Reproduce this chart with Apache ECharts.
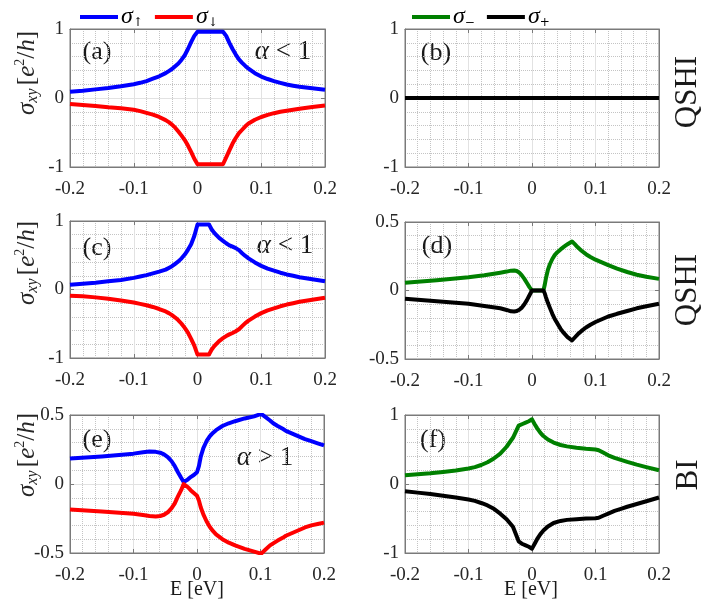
<!DOCTYPE html>
<html>
<head>
<meta charset="utf-8">
<script src="https://cdn.jsdelivr.net/npm/echarts@6/dist/echarts.min.js"></script>
<style>
  html, body { margin: 0; padding: 0; background: #fff; }
  #main { width: 708px; height: 612px; }
</style>
</head>
<body>
<div id="main"></div>
<script>
// panel (a)
const E_A = [-0.2, -0.18, -0.16, -0.14, -0.12, -0.1, -0.09, -0.08, -0.07, -0.06, -0.05, -0.045, -0.04, -0.035, -0.03,
  -0.025, -0.02, -0.015, -0.01, -0.005, 0,
  0.04, 0.045, 0.05, 0.055, 0.06, 0.065, 0.07, 0.075, 0.08, 0.09, 0.1, 0.11, 0.12, 0.13, 0.14, 0.15, 0.16, 0.18, 0.2];
const UP_A = [0.09, 0.105, 0.125, 0.145, 0.17, 0.20, 0.22, 0.245, 0.28, 0.315, 0.36, 0.39, 0.42, 0.46, 0.50,
  0.555, 0.62, 0.71, 0.81, 0.90, 0.96,
  0.96, 0.90, 0.80, 0.71, 0.63, 0.56, 0.51, 0.465, 0.425, 0.36, 0.31, 0.275, 0.245, 0.22, 0.195, 0.178, 0.163, 0.14, 0.12];
const DOWN_A = [-0.087, -0.1, -0.115, -0.135, -0.15, -0.17, -0.19, -0.215, -0.24, -0.275, -0.32, -0.35, -0.385, -0.43, -0.485,
  -0.545, -0.61, -0.69, -0.78, -0.88, -0.96,
  -0.96, -0.86, -0.76, -0.66, -0.58, -0.51, -0.46, -0.41, -0.37, -0.315, -0.275, -0.245, -0.22, -0.2, -0.185, -0.17, -0.155, -0.13, -0.11];

// panel (b)
const E_B = [-0.2, -0.1, 0, 0.1, 0.2];
const MINUS_B = [0, 0, 0, 0, 0];
const PLUS_B = [0, 0, 0, 0, 0];

// panel (c)
const E_C = [-0.2, -0.18, -0.16, -0.14, -0.12, -0.1, -0.09, -0.08, -0.07, -0.06, -0.05, -0.045, -0.04, -0.035, -0.03,
  -0.025, -0.02, -0.015, -0.01, -0.005, 0,
  0.018, 0.022, 0.026, 0.03, 0.035, 0.04, 0.045, 0.05, 0.055, 0.06, 0.065, 0.07, 0.075, 0.08, 0.09, 0.1, 0.11, 0.12,
  0.13, 0.14, 0.15, 0.16, 0.18, 0.2];
const UP_C = [0.07, 0.085, 0.10, 0.12, 0.14, 0.17, 0.19, 0.21, 0.235, 0.26, 0.29, 0.315, 0.34, 0.375, 0.41,
  0.455, 0.51, 0.58, 0.66, 0.78, 0.95,
  0.95, 0.88, 0.83, 0.79, 0.745, 0.71, 0.675, 0.645, 0.625, 0.605, 0.575, 0.53, 0.49, 0.455, 0.395, 0.345, 0.305, 0.275,
  0.245, 0.22, 0.2, 0.18, 0.15, 0.12];
const DOWN_C = [-0.09, -0.1, -0.115, -0.135, -0.16, -0.19, -0.21, -0.23, -0.255, -0.285, -0.32, -0.345, -0.375, -0.41, -0.45,
  -0.5, -0.56, -0.63, -0.72, -0.82, -0.95,
  -0.95, -0.88, -0.83, -0.79, -0.745, -0.71, -0.68, -0.655, -0.635, -0.61, -0.58, -0.535, -0.49, -0.455, -0.395, -0.345, -0.305, -0.275,
  -0.245, -0.22, -0.2, -0.18, -0.15, -0.12];

// panel (d)
const E_D = [-0.2, -0.15, -0.1, -0.075, -0.05, -0.04, -0.033, -0.028, -0.024, -0.02, -0.016, -0.012, -0.008, -0.004, 0,
  0.018, 0.02, 0.022, 0.025, 0.028, 0.032, 0.036, 0.04, 0.045, 0.05, 0.056, 0.063, 0.067, 0.072, 0.078, 0.085, 0.092,
  0.1, 0.11, 0.12, 0.134, 0.15, 0.165, 0.18, 0.2];
const MINUS_D = [0.056, 0.075, 0.097, 0.112, 0.13, 0.138, 0.145, 0.146, 0.142, 0.13, 0.11, 0.085, 0.055, 0.025, 0,
  0, 0.04, 0.09, 0.15, 0.19, 0.23, 0.26, 0.28, 0.30, 0.318, 0.338, 0.358, 0.34, 0.315, 0.29, 0.265, 0.245,
  0.225, 0.205, 0.185, 0.16, 0.135, 0.115, 0.10, 0.085];
const PLUS_D = [-0.06, -0.078, -0.097, -0.113, -0.13, -0.142, -0.152, -0.153, -0.15, -0.14, -0.125, -0.1, -0.07, -0.035, 0,
  0, -0.02, -0.05, -0.09, -0.125, -0.17, -0.21, -0.24, -0.28, -0.31, -0.34, -0.365, -0.345, -0.32, -0.295, -0.27, -0.25,
  -0.23, -0.21, -0.19, -0.17, -0.15, -0.13, -0.115, -0.097];

// panel (e)
const E_E = [-0.2, -0.15, -0.1, -0.085, -0.075, -0.065, -0.058, -0.052, -0.046, -0.04, -0.035, -0.03, -0.025, -0.021,
  -0.015, -0.01, -0.005, 0, 0.003, 0.006, 0.01, 0.015, 0.02, 0.025, 0.03, 0.04, 0.05, 0.06, 0.075, 0.09, 0.101,
  0.108, 0.115, 0.12, 0.127, 0.135, 0.14, 0.15, 0.16, 0.17, 0.18, 0.19, 0.2];
const UP_E = [0.184, 0.20, 0.22, 0.23, 0.235, 0.233, 0.227, 0.215, 0.195, 0.165, 0.13, 0.085, 0.045, 0.015,
  0.03, 0.05, 0.065, 0.085, 0.13, 0.2, 0.26, 0.31, 0.345, 0.37, 0.39, 0.42, 0.44, 0.455, 0.475, 0.49, 0.508,
  0.485, 0.46, 0.44, 0.42, 0.40, 0.385, 0.365, 0.345, 0.325, 0.31, 0.295, 0.28];
const DOWN_E = [-0.184, -0.2, -0.215, -0.225, -0.232, -0.235, -0.232, -0.223, -0.205, -0.175, -0.14, -0.09, -0.045, 0.0,
  -0.02, -0.045, -0.065, -0.085, -0.12, -0.17, -0.22, -0.27, -0.31, -0.34, -0.365, -0.4, -0.425, -0.445, -0.47, -0.49, -0.505,
  -0.475, -0.445, -0.43, -0.41, -0.39, -0.375, -0.355, -0.335, -0.315, -0.3, -0.29, -0.28];

// panel (f)
const E_F = [-0.2, -0.18, -0.16, -0.14, -0.12, -0.1, -0.09, -0.08, -0.07, -0.06, -0.05, -0.04, -0.03, -0.021, -0.015,
  -0.01, -0.005, 0, 0.004, 0.008, 0.013, 0.018, 0.025, 0.034, 0.045, 0.055, 0.07, 0.085, 0.1, 0.105, 0.112, 0.12,
  0.13, 0.14, 0.15, 0.165, 0.18, 0.2];
const MINUS_F = [0.128, 0.14, 0.155, 0.175, 0.195, 0.225, 0.245, 0.275, 0.315, 0.37, 0.44, 0.54, 0.67, 0.845, 0.87,
  0.89, 0.91, 0.937, 0.87, 0.81, 0.745, 0.695, 0.645, 0.60, 0.565, 0.545, 0.525, 0.51, 0.5, 0.49, 0.455, 0.415,
  0.38, 0.35, 0.32, 0.28, 0.245, 0.2];
const PLUS_F = [-0.104, -0.125, -0.145, -0.17, -0.195, -0.225, -0.245, -0.275, -0.31, -0.36, -0.43, -0.51, -0.62, -0.83, -0.87,
  -0.89, -0.91, -0.937, -0.87, -0.8, -0.73, -0.675, -0.615, -0.565, -0.535, -0.52, -0.51, -0.5, -0.495, -0.49, -0.46, -0.43,
  -0.39, -0.36, -0.33, -0.29, -0.25, -0.196];

const X_TICKS = [-0.2, -0.1, 0, 0.1, 0.2];
const SERIF = '"Liberation Serif", "Times New Roman", serif';
const FRAME = '#7a7a7a';
const COLORS = { up: '#0000ff', down: '#ff0000', minus: '#008000', plus: '#000000' };
const LEGEND_TEXT = { up: '{s|σ}{sub|↑}', down: '{s|σ}{sub|↓}', minus: '{s|σ}{sub|−}', plus: '{s|σ}{sub|+}' };

const chart = echarts.init(document.getElementById('main'));

// grid rectangles, (a)..(f)
const grids = [
  { left: 70, top: 29, width: 255, height: 138 },
  { left: 405, top: 29, width: 254, height: 138 },
  { left: 70, top: 221, width: 255, height: 137 },
  { left: 405, top: 222, width: 254, height: 137 },
  { left: 70, top: 415, width: 254, height: 138 },
  { left: 405, top: 415, width: 254, height: 138 }
];
const yRanges = [1, 1, 1, 0.5, 0.5, 1];

function fmt(v) {
  return String(Math.round(v * 10) / 10);
}

function xAxis(i, mirror) {
  return {
    gridIndex: i, type: 'value', min: X_TICKS[0], max: X_TICKS[X_TICKS.length - 1], interval: 0.1,
    position: mirror ? 'top' : 'bottom',
    axisLine: { show: true, onZero: false, lineStyle: { color: FRAME } },
    axisTick: { inside: true, length: 4, lineStyle: { color: FRAME } },
    axisLabel: { show: !mirror, fontFamily: SERIF, fontSize: 19, color: '#262626', margin: 13, formatter: fmt },
    splitLine: { show: !mirror, lineStyle: { color: '#e2e2e2', width: 1 } },
    minorTick: { show: false, splitNumber: 5 },
    minorSplitLine: { show: !mirror, lineStyle: { color: '#c4c4c4', type: 'dotted', width: 1 } }
  };
}

function yAxis(i, mirror) {
  const r = yRanges[i];
  return {
    gridIndex: i, type: 'value', min: -r, max: r, interval: r,
    position: mirror ? 'right' : 'left',
    axisLine: { show: true, onZero: false, lineStyle: { color: FRAME } },
    axisTick: { inside: true, length: 4, lineStyle: { color: FRAME } },
    axisLabel: { show: !mirror, fontFamily: SERIF, fontSize: 19, color: '#262626', margin: 6, formatter: fmt },
    splitLine: { show: !mirror, lineStyle: { color: '#e2e2e2', width: 1 } },
    minorTick: { show: false, splitNumber: 5 },
    minorSplitLine: { show: !mirror, lineStyle: { color: '#c4c4c4', type: 'dotted', width: 1 } }
  };
}

function zip(xs, ys) {
  return xs.map((x, k) => [x, ys[k]]);
}

function line(name, i, xs, ys) {
  return {
    name: name, type: 'line', xAxisIndex: i, yAxisIndex: i,
    data: zip(xs, ys), showSymbol: false, symbol: 'none', smooth: false,
    lineStyle: { color: COLORS[name], width: 4, join: 'round' }, itemStyle: { color: COLORS[name] },
    animation: false
  };
}

const legendRich = {
  s: { fontFamily: SERIF, fontStyle: 'italic', fontSize: 24, color: '#000', lineHeight: 24 },
  sub: { fontFamily: 'DejaVu Serif', fontSize: 12, color: '#000', verticalAlign: 'bottom', lineHeight: 24, padding: [10, 0, 0, 0] }
};

function legend(names, left) {
  return {
    data: names, left: left, top: 0, orient: 'horizontal',
    icon: 'rect', itemWidth: 38, itemHeight: 4, itemGap: 12,
    formatter: n => LEGEND_TEXT[n],
    textStyle: { rich: legendRich, padding: [0, 0, 0, -2] }
  };
}

const yLabelRich = {
  s: { fontFamily: SERIF, fontStyle: 'italic', fontSize: 25, fill: '#262626' },
  sub: { fontFamily: SERIF, fontStyle: 'italic', fontSize: 16, fill: '#262626', verticalAlign: 'bottom', padding: [11, 0, 0, 0] },
  sup: { fontFamily: SERIF, fontSize: 14, fill: '#262626', verticalAlign: 'top', padding: [0, 0, 11, 0] },
  n: { fontFamily: SERIF, fontSize: 25, fill: '#262626' }
};

function yLabel(cx, cy) {
  return {
    type: 'text', x: cx, y: cy, rotation: Math.PI / 2,
    style: {
      text: '{s|σ}{sub|xy} {n|[}{s|e}{sup|2}{n|/}{s|h}{n|]}',
      rich: yLabelRich, align: 'center', verticalAlign: 'middle'
    }
  };
}

function plain(text, cx, cy, size, rotation) {
  return {
    type: 'text', x: cx, y: cy, rotation: rotation || 0,
    style: {
      text: text, fontFamily: SERIF, fontSize: size, fill: '#1a1a1a',
      align: 'center', verticalAlign: 'middle'
    }
  };
}

function alphaLabel(op, cx, cy) {
  return {
    type: 'text', x: cx, y: cy,
    style: {
      text: '{a|α}{n| ' + op + ' 1}',
      rich: {
        a: { fontFamily: SERIF, fontStyle: 'italic', fontSize: 27, fill: '#1a1a1a' },
        n: { fontFamily: SERIF, fontSize: 27, fill: '#1a1a1a' }
      },
      align: 'center', verticalAlign: 'middle'
    }
  };
}

const option = {
  backgroundColor: '#ffffff',
  animation: false,
  grid: grids.map(g => Object.assign({ show: true, borderColor: FRAME, borderWidth: 1, backgroundColor: '#fff' }, g)),
  xAxis: grids.map((g, i) => xAxis(i, false)).concat(grids.map((g, i) => xAxis(i, true))),
  yAxis: grids.map((g, i) => yAxis(i, false)).concat(grids.map((g, i) => yAxis(i, true))),
  legend: [legend(['up', 'down'], 75), legend(['minus', 'plus'], 407)],
  series: [
    line('up', 0, E_A, UP_A),
    line('down', 0, E_A, DOWN_A),
    line('minus', 1, E_B, MINUS_B),
    line('plus', 1, E_B, PLUS_B),
    line('up', 2, E_C, UP_C),
    line('down', 2, E_C, DOWN_C),
    line('minus', 3, E_D, MINUS_D),
    line('plus', 3, E_D, PLUS_D),
    line('up', 4, E_E, UP_E),
    line('down', 4, E_E, DOWN_E),
    line('minus', 5, E_F, MINUS_F),
    line('plus', 5, E_F, PLUS_F)
  ],
  graphic: [
    yLabel(27, 73),
    yLabel(27, 263),
    yLabel(27, 455),
    plain('(a)', 97, 52, 26),
    plain('(b)', 436, 53, 26),
    plain('(c)', 97, 248, 26),
    plain('(d)', 437, 246, 26),
    plain('(e)', 97, 440, 26),
    plain('(f)', 433, 440, 26),
    alphaLabel('<', 283, 52),
    alphaLabel('<', 285, 246),
    alphaLabel('>', 265, 458),
    plain('QSHI', 688, 92, 31, Math.PI / 2),
    plain('QSHI', 688, 290, 31, Math.PI / 2),
    plain('BI', 689, 475, 31, Math.PI / 2),
    plain('E [eV]', 197, 590, 20),
    plain('E [eV]', 531, 590, 20)
  ]
};

chart.setOption(option);
</script>
</body>
</html>
